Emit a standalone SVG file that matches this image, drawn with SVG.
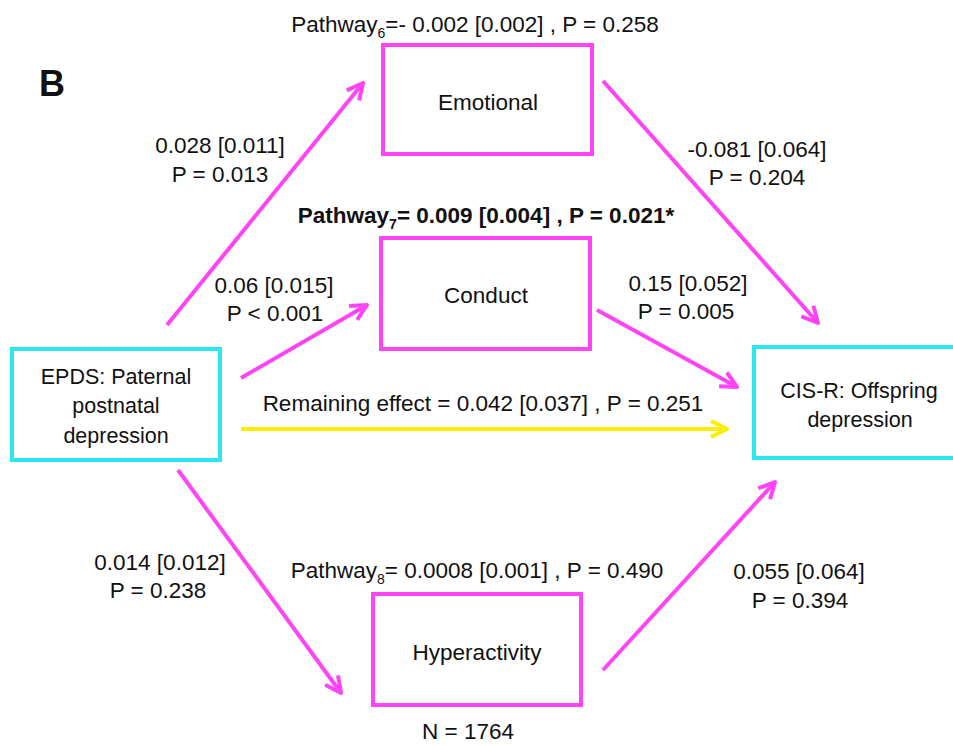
<svg xmlns="http://www.w3.org/2000/svg" width="953" height="746" viewBox="0 0 953 746">
<style>
text{font-family:"Liberation Sans",Arial,sans-serif;font-size:22.5px;fill:#111;text-anchor:middle}
.box{fill:#fff;stroke-width:4}
.mag{stroke:#ff44f6}
.cy{stroke:#2ae6ef}
.ln{fill:none;stroke-width:4}
.sub{font-size:14px}
.b{font-weight:bold}
.n{font-size:21.5px}
</style>
<defs>
<marker id="am" viewBox="-3 -3 22 22" refX="16" refY="8" markerWidth="22" markerHeight="22" markerUnits="userSpaceOnUse" orient="auto" overflow="visible">
<path d="M0,0 L16,8 L0,16" fill="none" stroke="#ff44f6" stroke-width="4" stroke-linejoin="round"/>
</marker>
<marker id="ay" viewBox="-3 -3 22 22" refX="16" refY="8" markerWidth="22" markerHeight="22" markerUnits="userSpaceOnUse" orient="auto" overflow="visible">
<path d="M0,0 L16,8 L0,16" fill="none" stroke="#f8f000" stroke-width="4" stroke-linejoin="round"/>
</marker>
</defs>
<rect width="953" height="746" fill="#fff"/>
<text x="52" y="96" class="b" style="font-size:36px">B</text>
<g id="connectors">
<line class="ln mag" x1="167" y1="325" x2="363" y2="83" marker-end="url(#am)"/>
<line class="ln mag" x1="241" y1="378" x2="367" y2="305" marker-end="url(#am)"/>
<line class="ln" stroke="#f8f000" x1="241" y1="429" x2="727" y2="429" marker-end="url(#ay)"/>
<line class="ln mag" x1="603" y1="81" x2="818" y2="323" marker-end="url(#am)"/>
<line class="ln mag" x1="597" y1="310" x2="737" y2="387" marker-end="url(#am)"/>
<line class="ln mag" x1="178" y1="470" x2="341" y2="693" marker-end="url(#am)"/>
<line class="ln mag" x1="603" y1="670" x2="775" y2="482" marker-end="url(#am)"/>
<text x="220" y="153">0.028 [0.011]</text>
<text x="220" y="182">P = 0.013</text>
<text x="757" y="157">-0.081 [0.064]</text>
<text x="757" y="185">P = 0.204</text>
<text x="274" y="293">0.06 [0.015]</text>
<text x="275" y="321">P &lt; 0.001</text>
<text x="688" y="291">0.15 [0.052]</text>
<text x="686" y="319">P = 0.005</text>
<text x="483" y="411">Remaining effect = 0.042 [0.037] , P = 0.251</text>
<text x="160" y="570">0.014 [0.012]</text>
<text x="158" y="598">P = 0.238</text>
<text x="799" y="579">0.055 [0.064]</text>
<text x="800" y="608">P = 0.394</text>
</g>
<g id="emotional">
<text x="475" y="32">Pathway<tspan class="sub" dy="6">6</tspan><tspan dy="-6">=- 0.002 [0.002] , P = 0.258</tspan></text>
<rect class="box mag" x="383" y="45" width="209" height="109"/>
<text x="488" y="110">Emotional</text>
</g>
<g id="conduct">
<text x="486" y="223" class="b">Pathway<tspan class="sub" dy="6">7</tspan><tspan dy="-6">= 0.009 [0.004] , P = 0.021*</tspan></text>
<rect class="box mag" x="381" y="238" width="209" height="111"/>
<text x="486" y="303">Conduct</text>
</g>
<g id="epds">
<rect class="box cy" x="12" y="349" width="208" height="111"/>
<text x="116" y="384" class="n">EPDS: Paternal</text>
<text x="116" y="413" class="n">postnatal</text>
<text x="116" y="443" class="n">depression</text>
</g>
<g id="cisr">
<rect class="box cy" x="754" y="347" width="210" height="111"/>
<text x="859" y="398" class="n">CIS-R: Offspring</text>
<text x="860" y="427" class="n">depression</text>
</g>
<g id="hyperactivity">
<text x="477" y="578">Pathway<tspan class="sub" dy="6">8</tspan><tspan dy="-6">= 0.0008 [0.001] , P = 0.490</tspan></text>
<rect class="box mag" x="373" y="594" width="208" height="111"/>
<text x="477" y="660">Hyperactivity</text>
</g>
<text x="468" y="739">N = 1764</text>
</svg>
